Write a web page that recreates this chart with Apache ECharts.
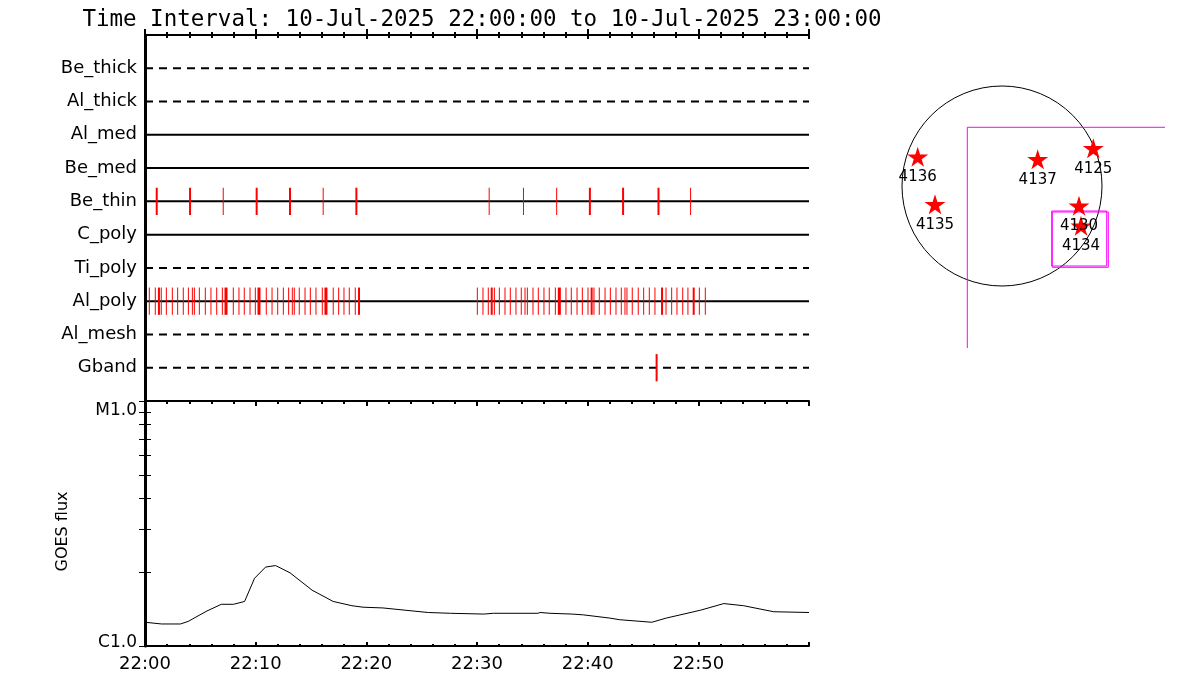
<!DOCTYPE html>
<html>
<head>
<meta charset="utf-8">
<script src="https://cdn.jsdelivr.net/npm/echarts@6/dist/echarts.min.js"></script>
<style>
  html, body { margin: 0; padding: 0; background: #fff; }
  #main { width: 1200px; height: 700px; }
</style>
</head>
<body>
<div id="main"></div>
<script>
// ---- data ----
var titleText = 'Time Interval: 10-Jul-2025 22:00:00 to 10-Jul-2025 23:00:00';
var rowNames = ['Be_thick', 'Al_thick', 'Al_med', 'Be_med', 'Be_thin', 'C_poly', 'Ti_poly', 'Al_poly', 'Al_mesh', 'Gband'];
var timeTicks = [0, 10, 20, 30, 40, 50];
var timeLabels = ['22:00', '22:10', '22:20', '22:30', '22:40', '22:50'];

// event times in minutes after 22:00, with relative weight
var beThinTimes = [1.06, 4.07, 7.07, 10.09, 13.1, 16.1, 19.1, 31.1, 34.2, 37.2, 40.2, 43.2, 46.4, 49.3];
var beThinWeights = [2, 2, 1, 2, 2, 1, 2, 1, 1, 1, 2, 2, 2, 1];
var alPolyTimes = [0.39, 0.93, 1.26, 1.47, 1.93, 2.47, 2.95, 3.46, 3.92, 4.28, 4.46, 4.91, 5.45, 5.96, 6.48, 6.99,
  7.32, 7.98, 8.49, 8.97, 9.49, 9.97, 10.3, 10.96, 11.48, 11.99, 12.5, 12.98, 13.31, 13.49, 13.94, 14.46, 14.94,
  15.45, 16.02, 16.35, 17.01, 17.5, 17.98, 18.46, 19.0, 19.34,
  30.03, 30.54, 31.02, 31.33, 31.57, 32.02, 32.53, 33.01, 33.52, 34.0, 34.34, 34.55, 35.06, 35.54, 36.05, 36.53,
  37.08, 37.44, 38.04, 38.52, 39.04, 39.52, 40.03, 40.36, 40.57, 41.05, 41.57, 42.05, 42.56, 43.04, 43.37, 43.55,
  44.03, 44.57, 45.06, 45.57, 46.08, 46.72, 47.08, 47.59, 48.07, 48.59, 49.06, 49.58, 50.09, 50.63];
var alPolyWeights = [1, 1, 2, 1, 1, 1, 1, 1, 1, 1, 1, 1, 1, 1, 1, 1,
  3, 1, 1, 1, 1, 1, 3, 1, 1, 1, 1, 1, 1, 1, 1, 1, 1,
  1, 1, 3, 1, 1, 1, 1, 1, 2,
  1, 1, 1, 2, 1, 1, 1, 1, 1, 1, 1, 1, 1, 1, 1, 1,
  1, 3, 1, 1, 1, 1, 1, 2, 1, 1, 1, 1, 1, 1, 1, 1,
  1, 1, 1, 1, 1, 2, 1, 1, 1, 1, 1, 2, 1, 1];
var gbandTimes = [46.23];
var gbandWeights = [2];

// GOES flux (W/m^2)
var goesTimes = [0, 1.5, 3.2, 3.9, 5.6, 6.9, 8.0, 9.0, 9.9, 10.9, 11.8, 13.1, 15.1, 17.0, 18.7, 19.7, 21.5, 23.5,
  25.6, 27.6, 30.6, 31.5, 35.5, 35.7, 36.6, 38.6, 39.6, 42.0, 42.9, 45.8, 47.1, 50.2, 52.3, 54.1, 56.8, 60];
var goesFlux = [1.25e-6, 1.23e-6, 1.23e-6, 1.26e-6, 1.39e-6, 1.48e-6, 1.48e-6, 1.52e-6, 1.89e-6, 2.10e-6, 2.13e-6,
  1.99e-6, 1.69e-6, 1.52e-6, 1.46e-6, 1.44e-6, 1.43e-6, 1.40e-6, 1.37e-6, 1.36e-6, 1.35e-6, 1.36e-6, 1.36e-6,
  1.37e-6, 1.36e-6, 1.35e-6, 1.34e-6, 1.30e-6, 1.28e-6, 1.25e-6, 1.30e-6, 1.40e-6, 1.49e-6, 1.46e-6, 1.38e-6, 1.37e-6];
var fluxTicks = [1e-6, 2e-6, 3e-6, 4e-6, 5e-6, 6e-6, 7e-6, 8e-6, 9e-6, 1e-5];
var fluxLabelTop = 'M1.0';
var fluxLabelBottom = 'C1.0';

// active regions (arcsec, circle centre at 0,0)
var arNames = ['4136', '4137', '4125', '4135', '4130', '4134'];
var arX = [-843, 357, 913, -670, 770, 790];
var arY = [293, 267, 377, -183, -197, -397];
var fovRadius = 1000;
var cornerX = [1630, -347, -347];
var cornerY = [587, 587, -1620];
var box1X = [497, 1047, 1047, 497, 497];
var box1Y = [-250, -250, -800, -800, -250];
var box2X = [503, 1063, 1063, 503, 503];
var box2Y = [-260, -260, -813, -813, -260];

// ---- styles ----
var dashedRows = ['Be_thick', 'Al_thick', 'Ti_poly', 'Al_mesh', 'Gband'];
var FONT = 'DejaVu Sans';

function zip(a, b) { return a.map(function (v, i) { return [v, b[i]]; }); }

var chart = echarts.init(document.getElementById('main'));

var series = [];
rowNames.forEach(function (name, i) {
  series.push({
    type: 'line', xAxisIndex: 0, yAxisIndex: 0, silent: true,
    showSymbol: false, symbol: 'none', z: 2,
    data: [[0, i + 1], [60, i + 1]],
    lineStyle: { color: '#000', width: 2, type: dashedRows.indexOf(name) >= 0 ? [8, 6] : 'solid' }
  });
});

function eventData(times, weights, rowName) {
  var r = rowNames.indexOf(rowName) + 1;
  return times.map(function (t, i) { return [t, r, weights[i]]; });
}
series.push({
  type: 'custom', xAxisIndex: 0, yAxisIndex: 0, z: 5, silent: true,
  data: eventData(beThinTimes, beThinWeights, 'Be_thin')
    .concat(eventData(alPolyTimes, alPolyWeights, 'Al_poly'))
    .concat(eventData(gbandTimes, gbandWeights, 'Gband')),
  renderItem: function (params, api) {
    var t = api.value(0), r = api.value(1), w = api.value(2);
    var p1 = api.coord([t, r - 0.41]);
    var p2 = api.coord([t, r + 0.41]);
    return { type: 'line', shape: { x1: p1[0], y1: p1[1], x2: p2[0], y2: p2[1] },
      style: { stroke: '#ff0000', lineWidth: w } };
  }
});

series.push({
  type: 'line', xAxisIndex: 3, yAxisIndex: 2, silent: true, showSymbol: false, symbol: 'none',
  data: zip(goesTimes, goesFlux),
  lineStyle: { color: '#000', width: 1 }
});

// right panel
series.push({
  type: 'custom', xAxisIndex: 4, yAxisIndex: 4, silent: true,
  data: [[0, 0, fovRadius]],
  renderItem: function (params, api) {
    var c = api.coord([api.value(0), api.value(1)]);
    var r = api.size([api.value(2), 0])[0];
    return { type: 'circle', shape: { cx: c[0], cy: c[1], r: r }, style: { fill: 'none', stroke: '#000', lineWidth: 1 } };
  }
});
[zip(cornerX, cornerY), zip(box1X, box1Y), zip(box2X, box2Y)].forEach(function (d) {
  series.push({
    type: 'line', xAxisIndex: 4, yAxisIndex: 4, silent: true, showSymbol: false, symbol: 'none',
    data: d, lineStyle: { color: '#ff00ff', width: 1 }
  });
});
series.push({
  type: 'scatter', xAxisIndex: 4, yAxisIndex: 4, silent: true, z: 6,
  symbol: 'path://M50,0 L61,35 L98,35 L68,57 L79,91 L50,70 L21,91 L32,57 L2,35 L39,35 Z',
  symbolSize: [21, 20],
  itemStyle: { color: '#ff0000', opacity: 1 },
  label: { show: true, position: 'bottom', distance: 3, color: '#000', fontFamily: FONT, fontSize: 15,
    textBorderWidth: 0, formatter: function (p) { return p.name; } },
  data: arNames.map(function (n, i) { return { name: n, value: [arX[i], arY[i]] }; })
});

var timeAxisBase = {
  type: 'value', min: 0, max: 60, interval: 10,
  splitLine: { show: false },
  axisLine: { show: true, lineStyle: { color: '#000', width: 2 } },
  axisTick: { show: true, inside: true, length: 6, lineStyle: { color: '#000', width: 2 } },
  minorTick: { show: true, splitNumber: 5, length: 3, lineStyle: { color: '#000', width: 2 } },
  axisLabel: { show: false }
};
function timeAxis(grid, pos, extra) {
  return Object.assign({}, timeAxisBase, { gridIndex: grid, position: pos }, extra || {});
}

var fluxAxisBase = {
  type: 'log', logBase: 10, min: 1e-6, max: 1e-5,
  splitLine: { show: false },
  axisLine: { show: true, lineStyle: { color: '#000', width: 3 } },
  axisTick: { show: true, inside: true, length: 6, customValues: fluxTicks, lineStyle: { color: '#000', width: 1 } },
  minorTick: { show: false }
};

var option = {
  backgroundColor: '#fff',
  animation: false,
  title: {
    text: titleText, left: 477, top: 4, textAlign: 'center',
    textStyle: { fontFamily: 'DejaVu Sans Mono', fontWeight: 'normal', fontSize: 22.5, color: '#000' }
  },
  grid: [
    { left: 145, top: 35, width: 664, height: 366 },
    { left: 145, top: 401, width: 664, height: 245 },
    { left: 880, top: 80, width: 300, height: 280 }
  ],
  xAxis: [
    timeAxis(0, 'top', { axisTick: { show: true, inside: true, length: 4, lineStyle: { color: '#000', width: 2 } } }),
    timeAxis(0, 'bottom'),
    timeAxis(1, 'top', { axisTick: { show: true, inside: true, length: 5, lineStyle: { color: '#000', width: 2 } } }),
    timeAxis(1, 'bottom', {
      axisTick: { show: true, inside: true, length: 4, lineStyle: { color: '#000', width: 2 } },
      minorTick: { show: true, splitNumber: 5, length: 2, lineStyle: { color: '#000', width: 2 } },
      axisLabel: {
        show: true, margin: 9, color: '#000', fontFamily: FONT, fontSize: 18,
        customValues: timeTicks,
        formatter: function (v) { var i = timeTicks.indexOf(v); return i >= 0 ? timeLabels[i] : ''; }
      }
    }),
    { type: 'value', gridIndex: 2, min: -1220, max: 1780, show: false }
  ],
  yAxis: [
    {
      type: 'value', gridIndex: 0, min: 0, max: 11, inverse: true, position: 'left',
      splitLine: { show: false },
      axisLine: { show: true, lineStyle: { color: '#000', width: 3 } },
      axisTick: { show: false },
      axisLabel: {
        show: true, margin: 8, color: '#000', fontFamily: FONT, fontSize: 18,
        customValues: [1, 2, 3, 4, 5, 6, 7, 8, 9, 10],
        formatter: function (v) { return rowNames[v - 1] || ''; }
      }
    },
    {
      type: 'value', gridIndex: 0, min: 0, max: 11, inverse: true, position: 'right',
      splitLine: { show: false }, axisTick: { show: false }, axisLabel: { show: false },
      axisLine: { show: true, lineStyle: { color: '#000', width: 2 } }
    },
    Object.assign({}, fluxAxisBase, {
      gridIndex: 1, position: 'left',
      name: 'GOES flux', nameLocation: 'middle', nameGap: 74, nameRotate: 90,
      nameTextStyle: { fontFamily: FONT, fontSize: 16, color: '#000', padding: [0, 16, 0, 0] },
      axisLabel: {
        show: true, margin: 8, color: '#000', fontFamily: FONT, fontSize: 17,
        customValues: [1e-5], verticalAlign: 'top', lineHeight: 20,
        formatter: function () { return fluxLabelTop; }
      }
    }),
    Object.assign({}, fluxAxisBase, {
      gridIndex: 1, position: 'right', axisLabel: { show: false },
      axisLine: { show: true, lineStyle: { color: '#000', width: 2 } }
    }),
    { type: 'value', gridIndex: 2, min: -1740, max: 1060, show: false },
    {
      type: 'log', logBase: 10, min: 1e-6, max: 1e-5, gridIndex: 1, position: 'left',
      splitLine: { show: false }, axisLine: { show: false }, axisTick: { show: false },
      axisLabel: {
        show: true, margin: 8, color: '#000', fontFamily: FONT, fontSize: 17,
        customValues: [1e-6], verticalAlign: 'bottom', lineHeight: 6,
        formatter: function () { return fluxLabelBottom; }
      }
    }
  ],
  series: series
};

chart.setOption(option);
</script>
</body>
</html>
